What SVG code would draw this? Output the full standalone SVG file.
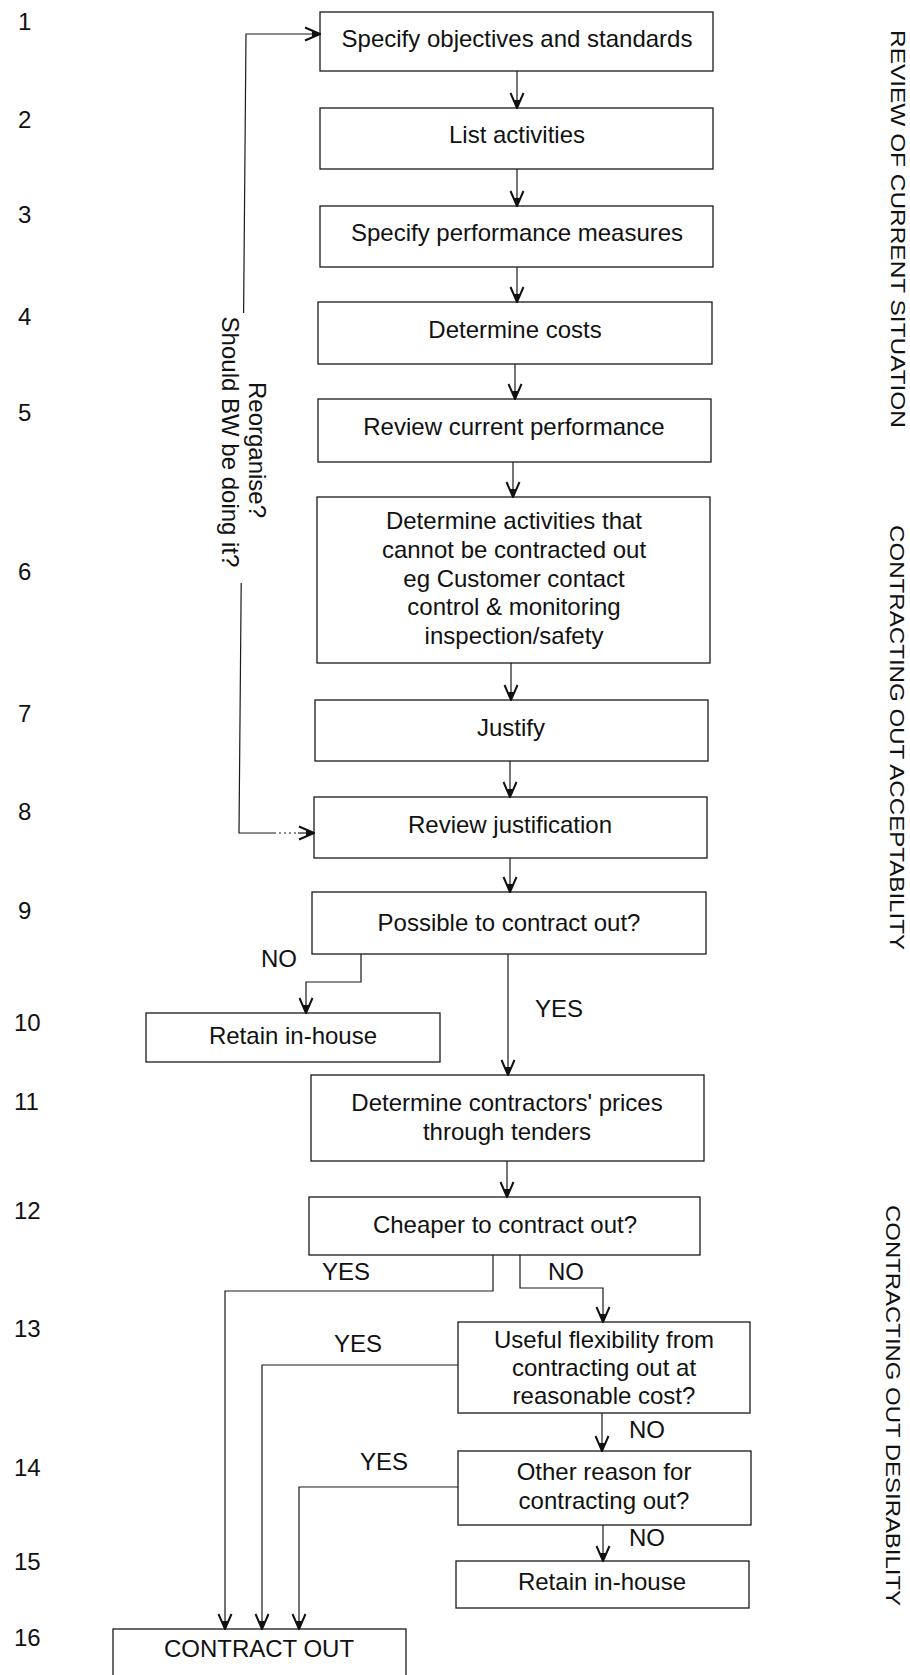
<svg xmlns="http://www.w3.org/2000/svg" width="910" height="1675" viewBox="0 0 910 1675">
  <style>
    .box { fill: none; stroke: #1a1a1a; stroke-width: 1.3; }
    .t { font-family: "Liberation Sans", Arial, sans-serif; font-size: 24px; fill: #111; text-anchor: middle; }
    .num { font-family: "Liberation Sans", Arial, sans-serif; font-size: 24px; fill: #111; }
    .side { font-family: "Liberation Sans", Arial, sans-serif; font-size: 20px; fill: #111; }
    .conn { fill: none; stroke: #1a1a1a; stroke-width: 1.2; }
    .dot { fill: none; stroke: #1a1a1a; stroke-width: 1.2; stroke-dasharray: 2 3; }
  </style>
  <defs>
    <marker id="arr" viewBox="-17 -9 18 18" refX="0" refY="0" markerWidth="18" markerHeight="18" markerUnits="userSpaceOnUse" orient="auto">
      <path d="M-15,-6.5 L0,0 L-15,6.5" fill="none" stroke="#111" stroke-width="2"/>
      <path d="M-8,-3 L0,0 L-8,3 Z" fill="#111"/>
    </marker>
  </defs>
  <rect width="910" height="1675" fill="#fff"/>

  <!-- step numbers -->
  <g id="step-numbers">
    <text class="num" x="18" y="30">1</text>
    <text class="num" x="18" y="128">2</text>
    <text class="num" x="18" y="223">3</text>
    <text class="num" x="18" y="325">4</text>
    <text class="num" x="18" y="421">5</text>
    <text class="num" x="18" y="580">6</text>
    <text class="num" x="18" y="722">7</text>
    <text class="num" x="18" y="820">8</text>
    <text class="num" x="18" y="919">9</text>
    <text class="num" x="14" y="1031">10</text>
    <text class="num" x="14" y="1110">11</text>
    <text class="num" x="14" y="1219">12</text>
    <text class="num" x="14" y="1337">13</text>
    <text class="num" x="14" y="1476">14</text>
    <text class="num" x="14" y="1570">15</text>
    <text class="num" x="14" y="1646">16</text>
  </g>

  <!-- section labels -->
  <g id="section-labels">
    <text class="side" transform="translate(891,30) rotate(90)" textLength="398" lengthAdjust="spacingAndGlyphs">REVIEW OF CURRENT SITUATION</text>
    <text class="side" transform="translate(890,525) rotate(90)" textLength="425" lengthAdjust="spacingAndGlyphs">CONTRACTING OUT ACCEPTABILITY</text>
    <text class="side" transform="translate(886,1205) rotate(90)" textLength="401" lengthAdjust="spacingAndGlyphs">CONTRACTING OUT DESIRABILITY</text>
  </g>

  <!-- process boxes -->
  <g id="n1"><rect class="box" x="320" y="12" width="393" height="59"/><text class="t" x="517" y="47">Specify objectives and standards</text></g>
  <g id="n2"><rect class="box" x="320" y="108" width="393" height="61"/><text class="t" x="517" y="143">List activities</text></g>
  <g id="n3"><rect class="box" x="320" y="206" width="393" height="61"/><text class="t" x="517" y="241">Specify performance measures</text></g>
  <g id="n4"><rect class="box" x="318" y="302" width="394" height="62"/><text class="t" x="515" y="338">Determine costs</text></g>
  <g id="n5"><rect class="box" x="318" y="399" width="393" height="63"/><text class="t" x="514" y="435">Review current performance</text></g>
  <g id="n6"><rect class="box" x="317" y="497" width="393" height="166"/>
    <text class="t" x="514" y="529">Determine activities that</text>
    <text class="t" x="514" y="558">cannot be contracted out</text>
    <text class="t" x="514" y="587">eg Customer contact</text>
    <text class="t" x="514" y="615">control &amp; monitoring</text>
    <text class="t" x="514" y="644">inspection/safety</text>
  </g>
  <g id="n7"><rect class="box" x="315" y="700" width="393" height="61"/><text class="t" x="511" y="736">Justify</text></g>
  <g id="n8"><rect class="box" x="314" y="797" width="393" height="61"/><text class="t" x="510" y="833">Review justification</text></g>
  <g id="n9"><rect class="box" x="312" y="892" width="394" height="62"/><text class="t" x="509" y="931">Possible to contract out?</text></g>
  <g id="n10"><rect class="box" x="146" y="1013" width="294" height="49"/><text class="t" x="293" y="1044">Retain in-house</text></g>
  <g id="n11"><rect class="box" x="311" y="1075" width="393" height="86"/>
    <text class="t" x="507" y="1111">Determine contractors' prices</text>
    <text class="t" x="507" y="1140">through tenders</text>
  </g>
  <g id="n12"><rect class="box" x="309" y="1197" width="391" height="58"/><text class="t" x="505" y="1233">Cheaper to contract out?</text></g>
  <g id="n13"><rect class="box" x="458" y="1322" width="292" height="91"/>
    <text class="t" x="604" y="1348">Useful flexibility from</text>
    <text class="t" x="604" y="1376">contracting out at</text>
    <text class="t" x="604" y="1404">reasonable cost?</text>
  </g>
  <g id="n14"><rect class="box" x="458" y="1451" width="293" height="74"/>
    <text class="t" x="604" y="1480">Other reason for</text>
    <text class="t" x="604" y="1509">contracting out?</text>
  </g>
  <g id="n15"><rect class="box" x="456" y="1561" width="293" height="47"/><text class="t" x="602" y="1590">Retain in-house</text></g>
  <g id="n16"><rect class="box" x="113" y="1629" width="293" height="60"/><text class="t" x="259" y="1657">CONTRACT OUT</text></g>

  <!-- connectors -->
  <g id="connectors">
    <line class="conn" x1="517" y1="71" x2="517" y2="108" marker-end="url(#arr)"/>
    <line class="conn" x1="517" y1="169" x2="517" y2="206" marker-end="url(#arr)"/>
    <line class="conn" x1="517" y1="267" x2="517" y2="302" marker-end="url(#arr)"/>
    <line class="conn" x1="515" y1="364" x2="515" y2="399" marker-end="url(#arr)"/>
    <line class="conn" x1="513" y1="462" x2="513" y2="497" marker-end="url(#arr)"/>
    <line class="conn" x1="511" y1="663" x2="511" y2="700" marker-end="url(#arr)"/>
    <line class="conn" x1="510" y1="761" x2="510" y2="797" marker-end="url(#arr)"/>
    <line class="conn" x1="510" y1="858" x2="510" y2="892" marker-end="url(#arr)"/>

    <!-- feedback loop: back to step 1 and on to step 8 -->
    <polyline class="conn" points="243.6,313 246,34 320,34" marker-end="url(#arr)"/>
    <polyline class="conn" points="241.2,583 239,833 274,833"/>
    <line class="dot" x1="274" y1="833" x2="298" y2="833"/>
    <line class="conn" x1="298" y1="833" x2="314" y2="833" marker-end="url(#arr)"/>

    <!-- step 9 branches -->
    <polyline class="conn" points="361,954 361,982 306,982 306,1013" marker-end="url(#arr)"/>
    <line class="conn" x1="508" y1="954" x2="508" y2="1075" marker-end="url(#arr)"/>
    <line class="conn" x1="507" y1="1161" x2="507" y2="1197" marker-end="url(#arr)"/>

    <!-- step 12 branches -->
    <polyline class="conn" points="493,1255 493,1291 225,1291 225,1629" marker-end="url(#arr)"/>
    <polyline class="conn" points="520,1255 520,1288 603,1288 603,1322" marker-end="url(#arr)"/>

    <!-- step 13 branches -->
    <polyline class="conn" points="458,1365 262,1365 262,1629" marker-end="url(#arr)"/>
    <line class="conn" x1="602" y1="1413" x2="602" y2="1451" marker-end="url(#arr)"/>

    <!-- step 14 branches -->
    <polyline class="conn" points="458,1487 299,1487 299,1629" marker-end="url(#arr)"/>
    <line class="conn" x1="603" y1="1525" x2="603" y2="1561" marker-end="url(#arr)"/>
  </g>

  <!-- branch labels -->
  <g id="branch-labels">
    <text class="t" transform="translate(249,450) rotate(90)">Reorganise?</text>
    <text class="t" transform="translate(222,442) rotate(90)">Should BW be doing it?</text>
    <text class="t" x="279" y="967">NO</text>
    <text class="t" x="559" y="1017">YES</text>
    <text class="t" x="346" y="1280">YES</text>
    <text class="t" x="566" y="1280">NO</text>
    <text class="t" x="358" y="1352">YES</text>
    <text class="t" x="647" y="1438">NO</text>
    <text class="t" x="384" y="1470">YES</text>
    <text class="t" x="647" y="1546">NO</text>
  </g>
</svg>
